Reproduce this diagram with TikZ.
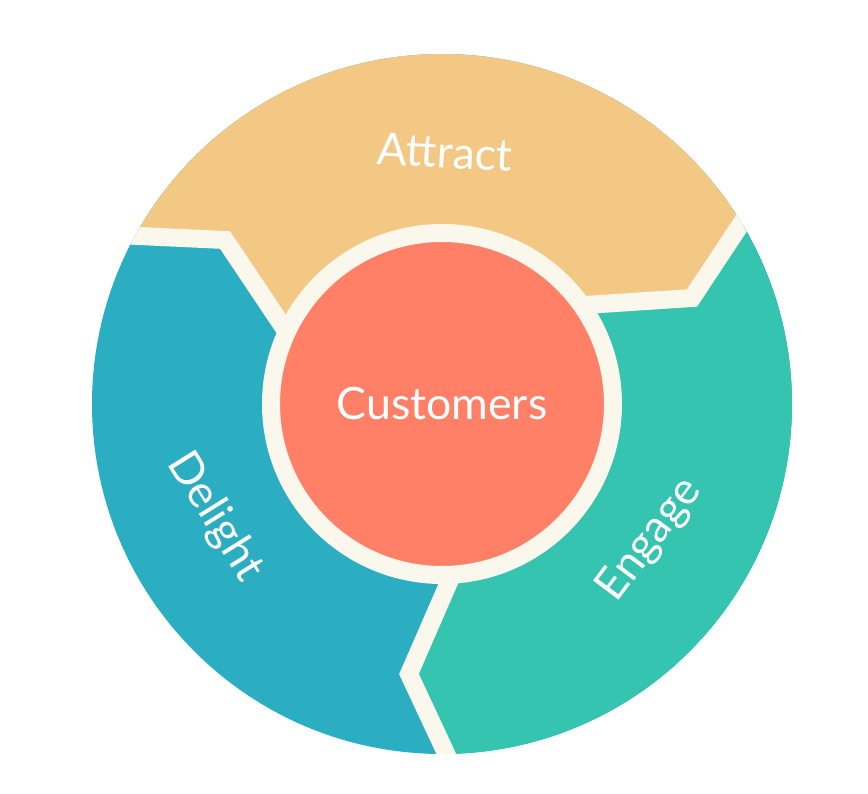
\documentclass[tikz,border=0pt]{standalone}
\usepackage{fontspec}
\setmainfont{Lato}
\usepackage{tikz}
\usetikzlibrary{positioning,calc}
\definecolor{AttractSand}{HTML}{F3C885}
\definecolor{DelightBlue}{HTML}{2BADC2}
\definecolor{EngageTeal}{HTML}{34C4B0}
\definecolor{CustomerCoral}{HTML}{FF7F67}
\definecolor{GapCream}{HTML}{FAF8ED}

\begin{document}
\begin{tikzpicture}[
    gap/.style={GapCream, line width=0.18cm},
    label/.style={font=\fontsize{12.7}{15}\selectfont, text=white, inner sep=0pt}]
  \useasboundingbox (0,0) rectangle (8.68,-7.94);
  \coordinate (c) at (4.42,-4.04);
  % seams: inner end, kink, outer end
  \coordinate (ad1) at (2.98,-3.49); \coordinate (ad2) at (2.25,-2.40); \coordinate (ad3) at (0.30,-2.31);
  \coordinate (ae1) at (5.70,-3.06); \coordinate (ae2) at (6.92,-2.98); \coordinate (ae3) at (7.90,-1.50);
  \coordinate (de1) at (4.59,-5.59); \coordinate (de2) at (4.09,-6.74); \coordinate (de3) at (4.65,-7.94);
  \begin{scope}
    \clip (c) circle (3.50);
    \fill[DelightBlue] (0,0) rectangle (8.68,-7.94);
    \fill[AttractSand] (c) -- (ad1) -- (ad2) -- (ad3) -- (0,0) -- (8.68,0) -- (ae3) -- (ae2) -- (ae1) -- cycle;
    \fill[EngageTeal] (c) -- (ae1) -- (ae2) -- (ae3) -- (8.68,-1.5) -- (8.68,-7.94) -- (de3) -- (de2) -- (de1) -- cycle;
    \foreach \s in {ad,ae,de}{\draw[gap] (\s1) -- (\s2) -- (\s3);}
  \end{scope}
  \node[circle, fill=CustomerCoral, draw=GapCream, line width=0.18cm, minimum size=3.42cm, label] (customers) at (c) {Customers};
  \node[label, rotate=-3] (attract) at (4.45,-1.52) {Attract};
  \node[label, rotate=-58] (delight) at (2.15,-5.17) {Delight};
  \node[label, rotate=53] (engage) at (6.50,-5.40) {Engage};
\end{tikzpicture}
\end{document}
